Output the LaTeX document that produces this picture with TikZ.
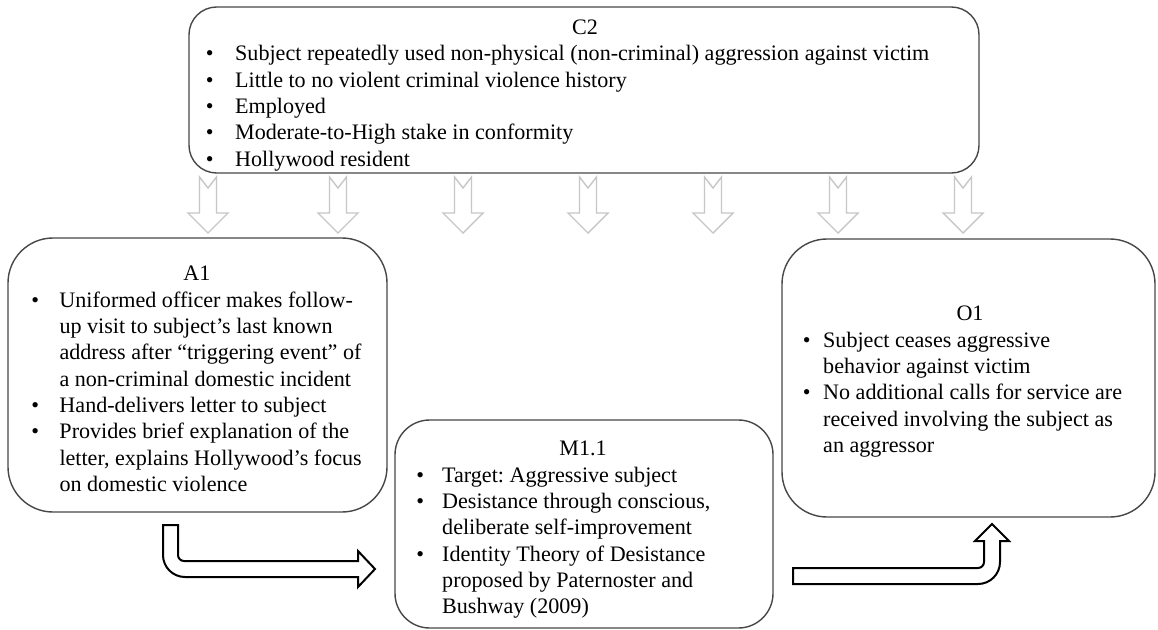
\documentclass[tikz,border=0pt]{standalone}
\usepackage{fontspec}
\setmainfont{Liberation Serif}
\newcommand{\bodyfont}{\fontsize{22.1pt}{26.3pt}\selectfont\frenchspacing}
\newcommand{\bul}[1]{\makebox[#1][l]{\makebox[0pt]{\textbullet}}}
\tikzset{
  box/.style={draw=black!72, line width=1.4pt, fill=white, inner sep=0pt},
  ttl/.style={anchor=base, inner sep=0pt, font=\bodyfont},
  body/.style={anchor=north west, inner sep=0pt, align=left, font=\bodyfont},
  downarr/.style={draw=black!22, line width=1.4pt, fill=white, line join=miter},
  bentarr/.style={draw=black, line width=2pt, fill=white, line join=miter},
}
\begin{document}
\begin{tikzpicture}[x=1pt,y=-1pt]
\fill[white] (0,0) rectangle (1158,629);
\useasboundingbox (0,0) rectangle (1158,629);

% boxes
\node[box, rounded corners=27.7pt, minimum width=790pt, minimum height=166pt] (C2) at (584,90) {};
\node[box, rounded corners=45pt, minimum width=379pt, minimum height=274pt] (A1) at (197.5,375) {};
\node[box, rounded corners=34.7pt, minimum width=378pt, minimum height=208pt] (M11) at (584,524) {};
\node[box, rounded corners=45pt, minimum width=373pt, minimum height=278pt] (O1) at (968.5,378) {};

% titles
\node[ttl] (C2t) at (585,34.4) {C2};
\node[ttl] (A1t) at (197,280.7) {A1};
\node[ttl] (M11t) at (583,455) {M1.1};
\node[ttl] (O1t) at (970,320.7) {O1};

% bodies
\node[body] (C2b) at (209.5,42.3) {\strut\bul{25.5pt}Subject repeatedly used non-physical (non-criminal) aggression against victim\\
\bul{25.5pt}Little to no violent criminal violence history\\
\bul{25.5pt}Employed\\
\bul{25.5pt}Moderate-to-High stake in conformity\\
\bul{25.5pt}Hollywood resident};

\node[body] (A1b) at (35,288.6) {\strut\bul{24.3pt}Uniformed officer makes follow-\\
\hspace*{24.3pt}up visit to subject’s last known\\
\hspace*{24.3pt}address after “triggering event” of\\
\hspace*{24.3pt}a non-criminal domestic incident\\
\bul{24.3pt}Hand-delivers letter to subject\\
\bul{24.3pt}Provides brief explanation of the\\
\hspace*{24.3pt}letter, explains Hollywood’s focus\\
\hspace*{24.3pt}on domestic violence};

\node[body] (M11b) at (420,463.6) {\strut\bul{22pt}Target: Aggressive subject\\
\bul{22pt}Desistance through conscious,\\
\hspace*{22pt}deliberate self-improvement\\
\bul{22pt}Identity Theory of Desistance\\
\hspace*{22pt}proposed by Paternoster and\\
\hspace*{22pt}Bushway (2009)};

\node[body] (O1b) at (806.5,328.6) {\strut\bul{16.5pt}Subject ceases aggressive\\
\hspace*{16.5pt}behavior against victim\\
\bul{16.5pt}No additional calls for service are\\
\hspace*{16.5pt}received involving the subject as\\
\hspace*{16.5pt}an aggressor};

% notched down arrows from C2
\foreach \cx in {208,338,463,588,713,838,963}{
  \draw[downarr] (\cx-8.5,177) -- (\cx,188) -- (\cx+8.5,177) -- (\cx+8.5,213)
    -- (\cx+20,213) -- (\cx,233) -- (\cx-20,213) -- (\cx-8.5,213) -- cycle;
}

% bent arrow A1 -> M1.1 (arc angles are canvas angles, y up)
\draw[bentarr] (163,525) -- (178,525) -- (178,555)
  arc[start angle=180, end angle=270, radius=6pt] -- (358,561) -- (358,551)
  -- (375,569) -- (358,587) -- (358,577) -- (185,577)
  arc[start angle=270, end angle=180, radius=22pt] -- cycle;

% bent arrow M1.1 -> O1
\draw[bentarr] (793,568) -- (978,568)
  arc[start angle=270, end angle=360, radius=6pt] -- (984,541) -- (975,541)
  -- (992,524) -- (1009,541) -- (1000,541) -- (1000,562)
  arc[start angle=0, end angle=-90, radius=22pt] -- (793,584) -- cycle;
\end{tikzpicture}
\end{document}
